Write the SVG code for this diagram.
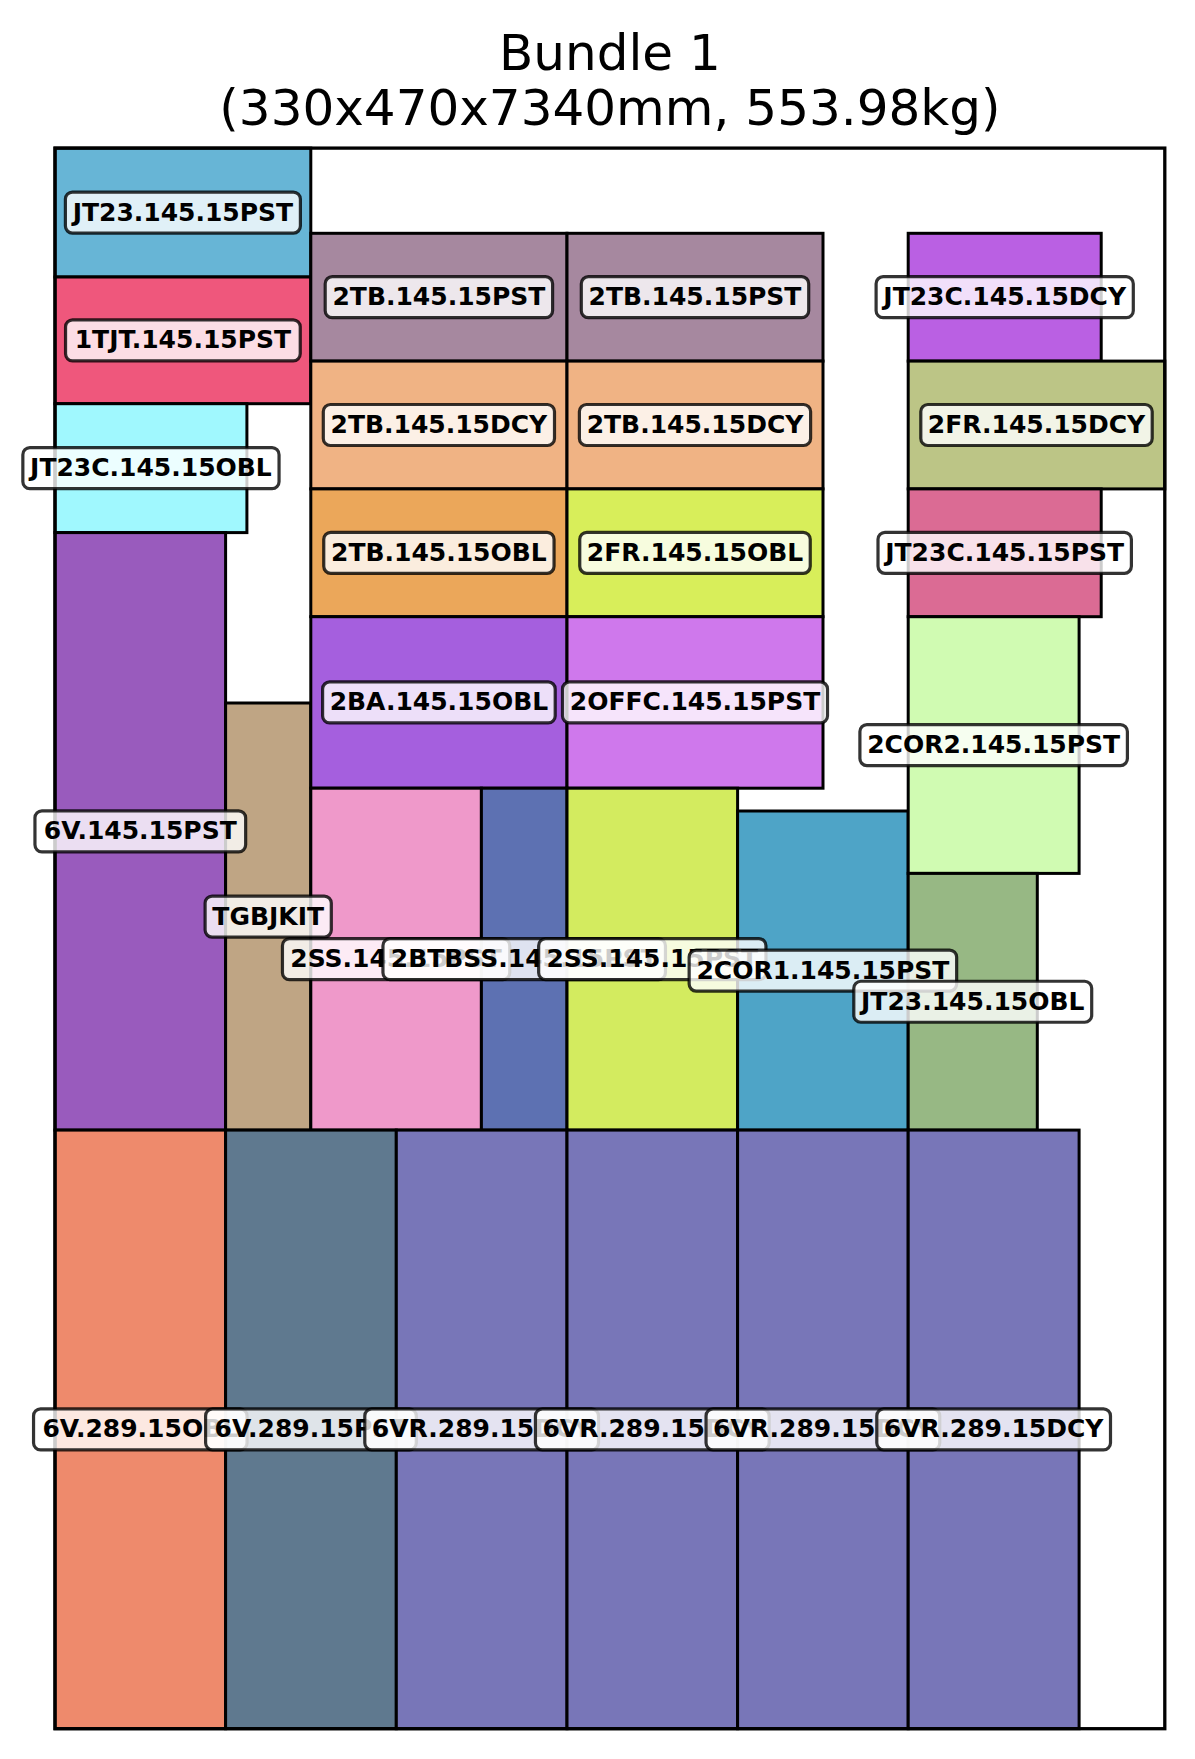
<svg xmlns="http://www.w3.org/2000/svg" width="1195" height="1759" viewBox="0 0 1195 1759">
<style>
.part{stroke:#000;stroke-width:3}
.lb rect{fill:#fff;fill-opacity:0.8;stroke:#000;stroke-opacity:0.8;stroke-width:3.2}
.lb text{font-family:"DejaVu Sans",sans-serif;font-weight:bold;font-size:25px;text-anchor:middle;fill:#000}
.title{font-family:"DejaVu Sans",sans-serif;font-size:50px;text-anchor:middle;fill:#000}
</style>
<rect width="1195" height="1759" fill="#fff"/>
<text class="title" x="609.9" y="70">Bundle 1</text>
<text class="title" x="609.9" y="125">(330x470x7340mm, 553.98kg)</text>
<g id="parts">
<g id="n-jt23-pst"><rect class="part" x="55" y="148.1" width="255.8" height="128.9" fill="#67b5d6"/></g>
<g id="n-1tjt-pst"><rect class="part" x="55" y="277" width="255.8" height="126.7" fill="#ef577c"/></g>
<g id="n-jt23c-obl"><rect class="part" x="55" y="403.7" width="191.9" height="128.9" fill="#a0f8fe"/></g>
<g id="n-6v145-pst"><rect class="part" x="55" y="532.6" width="170.6" height="597.5" fill="#995bbd"/></g>
<g id="n-tgbjkit"><rect class="part" x="225.6" y="703" width="85.2" height="427.1" fill="#bfa584"/></g>
<g id="n-2tb-pst-a"><rect class="part" x="310.8" y="233.3" width="256.2" height="127.8" fill="#a6889f"/></g>
<g id="n-2tb-pst-b"><rect class="part" x="567" y="233.3" width="256" height="127.8" fill="#a6889f"/></g>
<g id="n-2tb-dcy-a"><rect class="part" x="310.8" y="361.1" width="256.2" height="127.8" fill="#f0b384"/></g>
<g id="n-2tb-dcy-b"><rect class="part" x="567" y="361.1" width="256" height="127.8" fill="#f0b384"/></g>
<g id="n-2tb-obl"><rect class="part" x="310.8" y="488.9" width="256.2" height="127.8" fill="#eba75a"/></g>
<g id="n-2fr-obl"><rect class="part" x="567" y="488.9" width="256" height="127.8" fill="#d8ee5a"/></g>
<g id="n-2ba-obl"><rect class="part" x="310.8" y="616.7" width="256.2" height="171.5" fill="#a55fde"/></g>
<g id="n-2offc-pst"><rect class="part" x="567" y="616.7" width="256" height="171.5" fill="#cf78ec"/></g>
<g id="n-2ss-a"><rect class="part" x="310.8" y="788.2" width="170.6" height="341.9" fill="#ef99ca"/></g>
<g id="n-2btbss"><rect class="part" x="481.4" y="788.2" width="85.6" height="341.9" fill="#5d71b2"/></g>
<g id="n-2ss-b"><rect class="part" x="567" y="788.2" width="170.6" height="341.9" fill="#d3eb5f"/></g>
<g id="n-2cor1"><rect class="part" x="737.6" y="811" width="170.6" height="319.1" fill="#4ea4c7"/></g>
<g id="n-jt23c-dcy"><rect class="part" x="908.2" y="233.3" width="193" height="127.8" fill="#ba60e3"/></g>
<g id="n-2fr-dcy"><rect class="part" x="908.2" y="361.1" width="256.6" height="127.8" fill="#bcc586"/></g>
<g id="n-jt23c-pst"><rect class="part" x="908.2" y="488.9" width="193" height="127.8" fill="#db6b94"/></g>
<g id="n-2cor2"><rect class="part" x="908.2" y="616.7" width="170.9" height="256.7" fill="#d0fbb2"/></g>
<g id="n-jt23-obl"><rect class="part" x="908.2" y="873.4" width="129.1" height="256.7" fill="#97b884"/></g>
<g id="n-6v289-obl"><rect class="part" x="55" y="1130.1" width="170.6" height="598.6" fill="#ee8a6c"/></g>
<g id="n-6v289-pst"><rect class="part" x="225.6" y="1130.1" width="170.7" height="598.6" fill="#5f798f"/></g>
<g id="n-6vr-a"><rect class="part" x="396.3" y="1130.1" width="170.7" height="598.6" fill="#7876b8"/></g>
<g id="n-6vr-b"><rect class="part" x="567" y="1130.1" width="170.6" height="598.6" fill="#7876b8"/></g>
<g id="n-6vr-c"><rect class="part" x="737.6" y="1130.1" width="170.6" height="598.6" fill="#7876b8"/></g>
<g id="n-6vr-d"><rect class="part" x="908.2" y="1130.1" width="170.9" height="598.6" fill="#7876b8"/></g>
</g>
<rect id="frame" x="55" y="148.1" width="1109.8" height="1580.6" fill="none" stroke="#000" stroke-width="3.3"/>
<g id="labels">
<g class="lb" id="l-jt23-pst"><rect x="65.4" y="192.05" width="235" height="41" rx="7"/><text x="182.9" y="220.55">JT23.145.15PST</text></g>
<g class="lb" id="l-1tjt-pst"><rect x="65.55" y="319.85" width="234.7" height="41" rx="7"/><text x="182.9" y="348.35">1TJT.145.15PST</text></g>
<g class="lb" id="l-jt23c-obl"><rect x="22.85" y="447.65" width="256.2" height="41" rx="7"/><text x="150.95" y="476.15">JT23C.145.15OBL</text></g>
<g class="lb" id="l-6v145-pst"><rect x="34.95" y="810.85" width="210.7" height="41" rx="7"/><text x="140.3" y="839.35">6V.145.15PST</text></g>
<g class="lb" id="l-tgbjkit"><rect x="205.1" y="896.05" width="126.2" height="41" rx="7"/><text x="268.2" y="924.55">TGBJKIT</text></g>
<g class="lb" id="l-2tb-pst-a"><rect x="325.2" y="276.7" width="227.4" height="41" rx="7"/><text x="438.9" y="305.2">2TB.145.15PST</text></g>
<g class="lb" id="l-2tb-pst-b"><rect x="581.3" y="276.7" width="227.4" height="41" rx="7"/><text x="695" y="305.2">2TB.145.15PST</text></g>
<g class="lb" id="l-2tb-dcy-a"><rect x="323.3" y="404.5" width="231.2" height="41" rx="7"/><text x="438.9" y="433">2TB.145.15DCY</text></g>
<g class="lb" id="l-2tb-dcy-b"><rect x="579.4" y="404.5" width="231.2" height="41" rx="7"/><text x="695" y="433">2TB.145.15DCY</text></g>
<g class="lb" id="l-2tb-obl"><rect x="323.75" y="532.3" width="230.3" height="41" rx="7"/><text x="438.9" y="560.8">2TB.145.15OBL</text></g>
<g class="lb" id="l-2fr-obl"><rect x="579.75" y="532.3" width="230.5" height="41" rx="7"/><text x="695" y="560.8">2FR.145.15OBL</text></g>
<g class="lb" id="l-2ba-obl"><rect x="322.6" y="681.95" width="232.6" height="41" rx="7"/><text x="438.9" y="710.45">2BA.145.15OBL</text></g>
<g class="lb" id="l-2offc-pst"><rect x="562.5" y="681.95" width="265" height="41" rx="7"/><text x="695" y="710.45">2OFFC.145.15PST</text></g>
<g class="lb" id="l-jt23c-dcy"><rect x="876.1" y="276.7" width="257.2" height="41" rx="7"/><text x="1004.7" y="305.2">JT23C.145.15DCY</text></g>
<g class="lb" id="l-2fr-dcy"><rect x="920.8" y="404.5" width="231.4" height="41" rx="7"/><text x="1036.5" y="433">2FR.145.15DCY</text></g>
<g class="lb" id="l-jt23c-pst"><rect x="878" y="532.3" width="253.4" height="41" rx="7"/><text x="1004.7" y="560.8">JT23C.145.15PST</text></g>
<g class="lb" id="l-2cor2"><rect x="859.9" y="724.55" width="267.5" height="41" rx="7"/><text x="993.65" y="753.05">2COR2.145.15PST</text></g>
<g class="lb" id="l-2ss-a"><rect x="282.45" y="938.65" width="227.3" height="41" rx="7"/><text x="396.1" y="967.15">2SS.145.15PST</text></g>
<g class="lb" id="l-2btbss"><rect x="382.95" y="938.65" width="282.5" height="41" rx="7"/><text x="524.2" y="967.15">2BTBSS.145.15PST</text></g>
<g class="lb" id="l-2ss-b"><rect x="538.65" y="938.65" width="227.3" height="41" rx="7"/><text x="652.3" y="967.15">2SS.145.15PST</text></g>
<g class="lb" id="l-2cor1"><rect x="689.15" y="950.05" width="267.5" height="41" rx="7"/><text x="822.9" y="978.55">2COR1.145.15PST</text></g>
<g class="lb" id="l-jt23-obl"><rect x="853.8" y="981.25" width="237.9" height="41" rx="7"/><text x="972.75" y="1009.75">JT23.145.15OBL</text></g>
<g class="lb" id="l-6v289-obl"><rect x="33.55" y="1408.9" width="213.5" height="41" rx="7"/><text x="140.3" y="1437.4">6V.289.15OBL</text></g>
<g class="lb" id="l-6v289-pst"><rect x="205.6" y="1408.9" width="210.7" height="41" rx="7"/><text x="310.95" y="1437.4">6V.289.15PST</text></g>
<g class="lb" id="l-6vr-a"><rect x="364.8" y="1408.9" width="233.7" height="41" rx="7"/><text x="481.65" y="1437.4">6VR.289.15DCY</text></g>
<g class="lb" id="l-6vr-b"><rect x="535.45" y="1408.9" width="233.7" height="41" rx="7"/><text x="652.3" y="1437.4">6VR.289.15DCY</text></g>
<g class="lb" id="l-6vr-c"><rect x="706.05" y="1408.9" width="233.7" height="41" rx="7"/><text x="822.9" y="1437.4">6VR.289.15DCY</text></g>
<g class="lb" id="l-6vr-d"><rect x="876.8" y="1408.9" width="233.7" height="41" rx="7"/><text x="993.65" y="1437.4">6VR.289.15DCY</text></g>
</g>
</svg>
